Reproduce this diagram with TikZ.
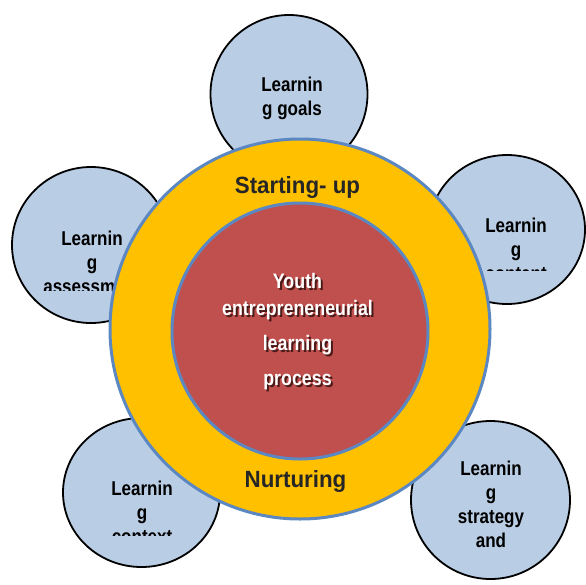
\documentclass[tikz,border=0pt]{standalone}
\usepackage{fontspec}
\setmainfont{Liberation Sans}
\newfontfamily\condsans{Liberation Sans}[FakeStretch=0.85]
\newfontfamily\ringsans{Liberation Sans}[FakeStretch=0.95]
\usetikzlibrary{shapes.geometric}
\definecolor{bubblefill}{HTML}{B9CDE5}
\definecolor{ringfill}{HTML}{FFC000}
\definecolor{corefill}{HTML}{C0504D}
\definecolor{rimblue}{HTML}{5B87C2}
\definecolor{textshadow}{HTML}{4A1A18}

\begin{document}
\begin{tikzpicture}[x=1pt,y=-1pt,
  bubble/.style={ellipse, draw=black, line width=1.8pt, fill=bubblefill, inner sep=0pt},
  % base anchor of a multi-line node sits on its last line
  bubbletext/.style={anchor=base, align=center, inner sep=0pt, text=black,
    font=\condsans\bfseries\fontsize{20}{24}\selectfont},
  ringtext/.style={anchor=base, inner sep=0pt, text=black!85,
    font=\ringsans\bfseries\fontsize{23.5}{28}\selectfont},
  coretext/.style={anchor=base, align=center, inner sep=0pt,
    font=\condsans\bfseries\fontsize{21}{27}\selectfont}]

\useasboundingbox (0,0) rectangle (586,584);

% outer bubbles with their (clipped) labels
\node[bubble, minimum width=157pt, minimum height=158pt] (goalsb) at (289,94) {};
\begin{scope}
  \clip (200,60) rectangle (380,140);
  \node[bubbletext] (goals) at (292,115) {Learnin\\g goals};
\end{scope}

\node[bubble, minimum width=158pt, minimum height=156pt] (assessb) at (91,245) {};
\begin{scope}
  \clip (20,220) rectangle (170,290);
  \node[bubbletext] (assess) at (92,293) {Learnin\\g\\assessment};
\end{scope}

\node[bubble, minimum width=156pt, minimum height=149pt] (contentb) at (507,229.5) {};
\begin{scope}
  \clip (440,200) rectangle (586,270);
  \node[bubbletext] (content) at (516,280) {Learnin\\g\\content};
\end{scope}

\node[bubble, minimum width=157pt, minimum height=149pt] (contextb) at (141.5,492.5) {};
\begin{scope}
  \clip (60,460) rectangle (225,535);
  \node[bubbletext] (context) at (142,543) {Learnin\\g\\context};
\end{scope}

\node[bubble, minimum width=159pt, minimum height=158pt] (strategyb) at (490.5,500) {};
\begin{scope}
  \clip (410,440) rectangle (586,560);
  \node[bubbletext] (strategy) at (491,547) {Learnin\\g\\strategy\\and};
\end{scope}

% the two rings
\node[circle, draw=rimblue, line width=3pt, fill=ringfill, inner sep=0pt,
      minimum size=380pt] (ring) at (300,329) {};
\node[circle, draw=rimblue, line width=3pt, fill=corefill, inner sep=0pt,
      minimum size=256pt] (core) at (300,331) {};

\node[ringtext] (start) at (297.5,193) {Starting- up};
\node[ringtext] (nurture) at (295.5,487) {Nurturing};

% core label with a soft drop shadow
\node[coretext, text=textshadow] (coreshadow) at (299.5,387)
  {Youth\\entrepreneneurial\\[8pt]learning\\[8pt]process};
\node[coretext, text=white] (corelabel) at (297.5,385)
  {Youth\\entrepreneneurial\\[8pt]learning\\[8pt]process};

\end{tikzpicture}
\end{document}
